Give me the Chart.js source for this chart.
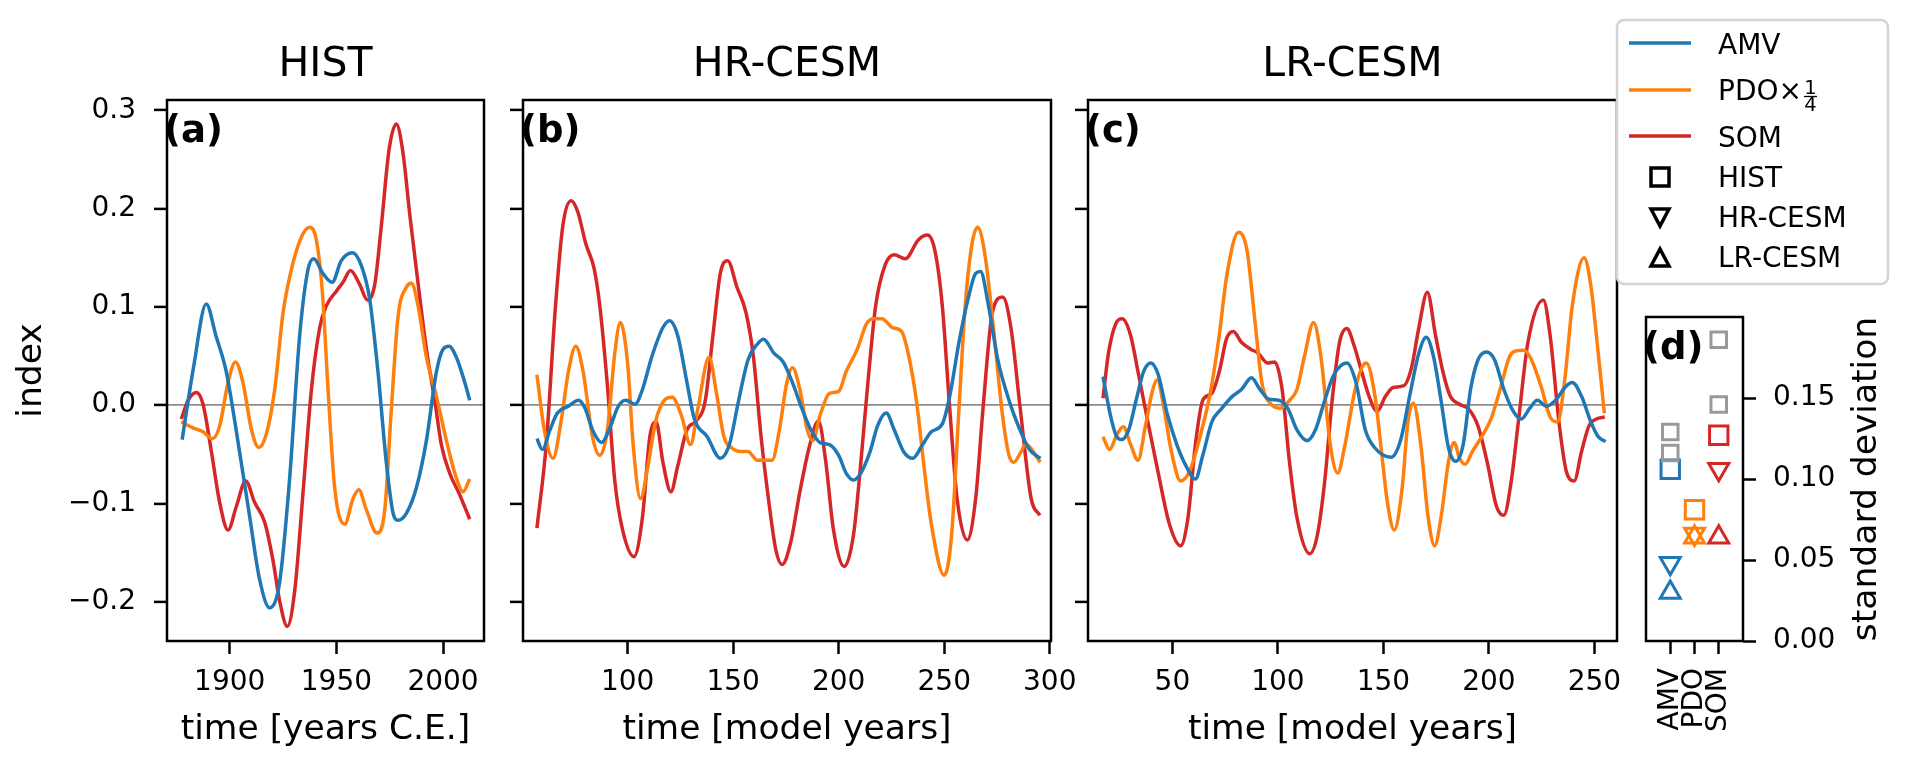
<!DOCTYPE html>
<html>
<head>
<meta charset="utf-8">
<script src="https://cdn.jsdelivr.net/npm/chart.js@4.4.1/dist/chart.umd.min.js"></script>
<style>
  html, body { margin: 0; padding: 0; background: #fff; }
  #wrap { position: relative; width: 1909px; height: 767px; overflow: hidden; }
  #wrap canvas, #wrap svg { position: absolute; left: 0; top: 0; }
</style>
</head>
<body>
<div id="wrap">
  <canvas id="histChart" width="1909" height="767"></canvas>
  <canvas id="hrChart" width="1909" height="767"></canvas>
  <canvas id="lrChart" width="1909" height="767"></canvas>
  <canvas id="stdChart" width="1909" height="767"></canvas>
  <svg id="legend" width="1909" height="767" font-family="DejaVu Sans, sans-serif">
    <rect x="1617" y="20" width="271" height="264" rx="7" fill="#fff" stroke="#d3d3d3" stroke-width="2.5"/>
    <line x1="1629" y1="43" x2="1691" y2="43" stroke="#1f77b4" stroke-width="3.5"/>
    <line x1="1629" y1="90" x2="1691" y2="90" stroke="#ff7f0e" stroke-width="3.5"/>
    <line x1="1629" y1="136" x2="1691" y2="136" stroke="#d62728" stroke-width="3.5"/>
    <rect x="1651" y="168" width="18" height="18" fill="none" stroke="#000" stroke-width="3.5"/>
    <polygon points="1651,209 1669,209 1660,226" fill="none" stroke="#000" stroke-width="3.5" stroke-linejoin="miter"/>
    <polygon points="1651,266 1669,266 1660,249" fill="none" stroke="#000" stroke-width="3.5" stroke-linejoin="miter"/>
    <text x="1718" y="53.5" font-size="28">AMV</text>
    <text x="1718" y="100" font-size="28">PDO×</text>
    <text x="1810.5" y="94" font-size="19.5" text-anchor="middle">1</text>
    <line x1="1804" y1="96.5" x2="1817" y2="96.5" stroke="#000" stroke-width="1.3"/>
    <text x="1810.5" y="111" font-size="19.5" text-anchor="middle">4</text>
    <text x="1718" y="146.5" font-size="28">SOM</text>
    <text x="1718" y="187" font-size="28">HIST</text>
    <text x="1718" y="227" font-size="28">HR-CESM</text>
    <text x="1718" y="267" font-size="28">LR-CESM</text>
  </svg>
</div>
<script>
// ---- data ----
var yTicks = [-0.2, -0.1, 0.0, 0.1, 0.2, 0.3];
var yTickLabels = ['\u22120.2', '\u22120.1', '0.0', '0.1', '0.2', '0.3'];

var histTicks = [1900, 1950, 2000];
var hrTicks = [100, 150, 200, 250, 300];
var lrTicks = [50, 100, 150, 200, 250];

// HIST
var histAmvX = [1877.7, 1883, 1889, 1893.5, 1898.4, 1903, 1909.4, 1914, 1918.7, 1923.4, 1928, 1932.8, 1936.7, 1939.4, 1943.7, 1948, 1952.3, 1957.5, 1961.7, 1965.6, 1969.5, 1973.4, 1976.6, 1978.9, 1982.8, 1987.5, 1992.2, 1996.9, 2000, 2002.8, 2006.2, 2010.2, 2012.5];
var histAmvY = [-0.035, 0.038, 0.103, 0.071, 0.034, -0.025, -0.114, -0.177, -0.206, -0.18, -0.077, 0.071, 0.138, 0.149, 0.134, 0.125, 0.147, 0.155, 0.142, 0.108, 0.034, -0.058, -0.11, -0.117, -0.11, -0.084, -0.036, 0.034, 0.057, 0.06, 0.049, 0.023, 0.005];
var histPdoX = [1877.3, 1882.8, 1887.5, 1891.9, 1895.3, 1899.2, 1902.7, 1906.2, 1910.2, 1913.6, 1917.2, 1921.1, 1925, 1928.9, 1933.6, 1937.5, 1940.6, 1943.4, 1946.1, 1949.2, 1953.9, 1957.8, 1960.5, 1964, 1969, 1972.7, 1975.8, 1978.9, 1982.8, 1985.2, 1988.3, 1992.2, 1996.9, 2001.6, 2005.5, 2009.4, 2012.5];
var histPdoY = [-0.017, -0.023, -0.027, -0.034, -0.021, 0.023, 0.044, 0.023, -0.025, -0.043, -0.029, 0.016, 0.094, 0.138, 0.171, 0.181, 0.168, 0.116, 0.016, -0.084, -0.121, -0.095, -0.086, -0.106, -0.13, -0.106, -0.003, 0.09, 0.12, 0.124, 0.101, 0.049, 0.009, -0.036, -0.069, -0.088, -0.075];
var histSomX = [1877.3, 1880.5, 1884.4, 1887.5, 1891.4, 1895.3, 1899.2, 1903.1, 1907.5, 1911.7, 1916.4, 1920.3, 1923.4, 1927, 1930.5, 1934.4, 1938.3, 1942.2, 1945.3, 1950, 1953.1, 1956.6, 1960.9, 1964.5, 1968, 1971.1, 1974.7, 1978.1, 1981.2, 1984.4, 1987.5, 1992.2, 1996.1, 1999.2, 2003.1, 2007.8, 2012.5];
var histSomY = [-0.014, 0.005, 0.013, 0.001, -0.047, -0.099, -0.127, -0.103, -0.077, -0.099, -0.119, -0.158, -0.199, -0.225, -0.188, -0.088, 0.016, 0.079, 0.101, 0.116, 0.125, 0.137, 0.123, 0.107, 0.123, 0.183, 0.26, 0.286, 0.257, 0.194, 0.138, 0.057, 0.005, -0.04, -0.069, -0.091, -0.116];

// HR-CESM
var hrAmvX = [57, 59.6, 63.2, 66.7, 71.9, 76.7, 79.8, 83.3, 87.7, 91.2, 95.6, 99.1, 103.5, 107, 111.4, 116.7, 119.8, 123.7, 128.1, 131.6, 137.7, 143.9, 148.2, 152.6, 157, 161.4, 164.4, 169.3, 173.7, 178.1, 182.5, 186.8, 191.2, 195.6, 200, 203.5, 207, 210.5, 214.9, 218.4, 222.5, 226.3, 230.7, 235.1, 239.5, 243.9, 249.1, 252.6, 257, 261.4, 264.9, 267.2, 271, 275.4, 280.7, 285.1, 290.4, 295.6];
var hrAmvY = [-0.034, -0.045, -0.025, -0.008, -0.001, 0.005, -0.003, -0.025, -0.038, -0.025, -0.001, 0.005, 0.001, 0.016, 0.049, 0.079, 0.086, 0.071, 0.023, -0.014, -0.032, -0.054, -0.04, 0.005, 0.046, 0.062, 0.067, 0.053, 0.044, 0.023, -0.003, -0.025, -0.038, -0.04, -0.051, -0.069, -0.076, -0.069, -0.047, -0.021, -0.008, -0.025, -0.047, -0.054, -0.041, -0.027, -0.019, 0.009, 0.064, 0.109, 0.134, 0.136, 0.101, 0.046, 0.005, -0.021, -0.045, -0.054];
var hrPdoX = [57, 60.5, 64.6, 68.4, 71.9, 75.4, 78.9, 83.3, 86.8, 90.4, 93.9, 96.5, 100, 102.6, 106.1, 109.6, 113.2, 116.7, 121.1, 125.4, 129.8, 133.3, 138.6, 142.1, 145.6, 149.1, 153.5, 157, 161.4, 168.4, 171.9, 175.4, 178.1, 181.6, 185.1, 187.7, 191.2, 195.6, 200, 203.5, 208.8, 213.2, 216.7, 220.5, 225.4, 229.8, 233.3, 236.8, 240.4, 243.9, 250, 253.5, 257, 260.5, 265.8, 269.3, 273.7, 277.2, 280.7, 283, 286, 288.6, 295.6];
var hrPdoY = [0.031, -0.025, -0.054, -0.017, 0.034, 0.06, 0.034, -0.032, -0.051, -0.025, 0.053, 0.084, 0.042, -0.04, -0.095, -0.062, -0.017, 0.003, 0.008, -0.01, -0.04, -0.003, 0.049, 0.012, -0.032, -0.043, -0.047, -0.047, -0.056, -0.056, -0.025, 0.023, 0.038, 0.016, -0.025, -0.036, -0.01, 0.012, 0.014, 0.034, 0.057, 0.083, 0.088, 0.088, 0.079, 0.075, 0.049, 0.005, -0.062, -0.121, -0.173, -0.132, -0.003, 0.116, 0.181, 0.153, 0.071, -0.003, -0.051, -0.058, -0.049, -0.04, -0.058];
var hrSomX = [57, 61.4, 65.8, 69.3, 73.2, 76.3, 80.2, 84.2, 86.8, 90.4, 93.9, 97.4, 103, 107, 110.5, 113.5, 116.7, 120.5, 123.7, 128.1, 132.5, 136.8, 140.4, 143.9, 147.4, 151.8, 156.1, 159.6, 163.2, 166.7, 170.2, 173.2, 177.2, 181.6, 186, 190.4, 193.9, 197.4, 202.6, 207, 210.5, 214, 217.5, 221.9, 226.3, 231.6, 237.7, 242.1, 245.6, 249.1, 252.6, 256.1, 260.9, 264.9, 268.4, 272.8, 277.7, 281.6, 286, 291.2, 295.3];
var hrSomY = [-0.125, -0.04, 0.101, 0.183, 0.208, 0.197, 0.164, 0.138, 0.101, 0.02, -0.077, -0.125, -0.154, -0.114, -0.032, -0.017, -0.058, -0.088, -0.062, -0.025, -0.016, 0.005, 0.071, 0.134, 0.147, 0.12, 0.094, 0.049, -0.032, -0.095, -0.147, -0.162, -0.14, -0.088, -0.043, -0.016, -0.058, -0.125, -0.164, -0.132, -0.058, 0.027, 0.101, 0.142, 0.153, 0.149, 0.168, 0.173, 0.157, 0.101, -0.003, -0.095, -0.137, -0.095, -0.003, 0.094, 0.11, 0.079, -0.003, -0.095, -0.112];

// LR-CESM
var lrAmvX = [17.1, 20.6, 23.2, 25.8, 29.3, 32.8, 36.3, 39.8, 43.3, 47.7, 52.1, 56.5, 60.9, 64.4, 68.7, 73.1, 78.4, 82.7, 87.5, 91.5, 95.9, 100.3, 104.6, 109, 113.9, 117.8, 122.2, 126.5, 132.7, 137, 141.4, 145.8, 153.7, 158.1, 162.4, 166.8, 170.3, 173.8, 177.3, 180.8, 184.3, 187.8, 191.3, 194.8, 198.9, 202.7, 207.1, 211.5, 215.3, 219.4, 222.9, 227.3, 231.6, 236, 239.5, 243.9, 248.3, 251.8, 255.3];
var lrAmvY = [0.029, -0.01, -0.03, -0.035, -0.025, 0.005, 0.034, 0.043, 0.031, -0.01, -0.04, -0.062, -0.075, -0.051, -0.017, -0.004, 0.009, 0.016, 0.028, 0.016, 0.006, 0.005, -0.003, -0.025, -0.036, -0.025, 0.005, 0.031, 0.043, 0.023, -0.025, -0.043, -0.053, -0.036, 0.009, 0.053, 0.069, 0.049, 0.005, -0.043, -0.057, -0.04, 0.016, 0.046, 0.054, 0.046, 0.016, -0.006, -0.014, -0.003, 0.005, -0.001, 0.005, 0.018, 0.023, 0.009, -0.017, -0.032, -0.037];
var lrPdoX = [17.1, 20.2, 23.7, 26.7, 30.2, 33.7, 37.2, 40.7, 42.8, 46, 49.5, 53.9, 58.2, 62.6, 67.9, 72.2, 75.7, 81.3, 85.4, 88.9, 92.4, 96.8, 101.1, 105.5, 109, 112.5, 116.9, 120.4, 124.8, 128.3, 131.8, 136.2, 139.7, 141.9, 145.8, 149.3, 151.9, 155.1, 158.9, 161.6, 164.2, 167.7, 171.2, 174.3, 177.3, 180.8, 183.5, 186.1, 188.7, 192.2, 196.6, 201, 205.3, 209.7, 212.3, 216.7, 220.2, 224.6, 229, 232.5, 236, 239.5, 245.1, 248.2, 251.8, 254.7];
var lrPdoY = [-0.032, -0.045, -0.03, -0.022, -0.04, -0.056, -0.021, 0.016, 0.026, -0.003, -0.047, -0.077, -0.067, -0.036, 0.012, 0.071, 0.131, 0.176, 0.157, 0.09, 0.023, 0.001, -0.003, 0.005, 0.016, 0.049, 0.084, 0.049, -0.04, -0.069, -0.04, 0.012, 0.038, 0.043, 0.012, -0.051, -0.099, -0.127, -0.084, -0.017, 0.002, -0.04, -0.114, -0.143, -0.114, -0.058, -0.038, -0.054, -0.06, -0.047, -0.032, -0.014, 0.016, 0.049, 0.055, 0.056, 0.046, 0.02, -0.012, -0.017, 0.027, 0.101, 0.15, 0.123, 0.053, -0.008];
var lrSomX = [17.1, 19.7, 23.2, 26.2, 30.2, 33.7, 38.1, 43.3, 48.6, 53.9, 57.4, 60.9, 64.4, 68.7, 72.2, 75.7, 78.9, 82.7, 87.1, 90.6, 95, 98.5, 102, 105.5, 109, 115.1, 118.7, 122.2, 125.7, 129.2, 132.7, 136.2, 139.7, 143.2, 147, 151, 154.6, 159.8, 163.3, 166.8, 170.8, 174.7, 178.2, 181.7, 186.1, 190.4, 194.8, 199.2, 203.6, 207.1, 210.6, 214.1, 218.5, 225.8, 229, 233.4, 236.9, 240.4, 243.9, 247.4, 250.9, 254.9];
var lrSomY = [0.007, 0.053, 0.083, 0.088, 0.071, 0.034, -0.014, -0.069, -0.121, -0.143, -0.114, -0.04, 0.005, 0.012, 0.034, 0.068, 0.075, 0.064, 0.057, 0.053, 0.043, 0.044, 0.016, -0.058, -0.114, -0.151, -0.132, -0.077, 0.005, 0.064, 0.078, 0.06, 0.034, 0.009, -0.006, 0.009, 0.018, 0.02, 0.038, 0.079, 0.115, 0.071, 0.034, 0.009, 0.001, -0.004, -0.021, -0.058, -0.103, -0.112, -0.077, -0.014, 0.064, 0.107, 0.071, -0.021, -0.069, -0.077, -0.047, -0.021, -0.014, -0.012];

// (d) standard deviations
var stdCategories = ['AMV', 'PDO', 'SOM'];
var stdCatX = [0, 1, 2];
var stdHist = [0.106, 0.081, 0.127];
var stdHr = [0.048, 0.066, 0.106];
var stdLr = [0.030, 0.064, 0.064];
var stdGrayX = [0, 0, 2, 2];
var stdGrayY = [0.129, 0.116, 0.186, 0.146];
var stdTicks = [0, 0.05, 0.10, 0.15];
var stdTickLabels = ['0.00', '0.05', '0.10', '0.15'];

// ---- drawing ----
var W = 1909, H = 767, TOP = 100, BOTTOM = 641;
var FONT = "'DejaVu Sans', sans-serif";
var C_AMV = '#1f77b4', C_PDO = '#ff7f0e', C_SOM = '#d62728';
Chart.defaults.font.family = FONT;
Chart.defaults.color = '#000';

function pts(xs, ys) {
  return xs.map(function (x, i) { return {x: x, y: ys[i]}; });
}
function fixedTicks(values) {
  return function (scale) {
    scale.ticks = values.map(function (v) { return {value: v}; });
  };
}

var decor = {
  id: 'decor',
  afterDraw: function (chart, args, opts) {
    var a = chart.chartArea, c = chart.ctx;
    c.save();
    c.strokeStyle = '#000';
    c.lineWidth = 2.5;
    c.strokeRect(a.left, a.top, a.right - a.left, a.bottom - a.top);
    c.fillStyle = '#000';
    if (opts.title) {
      c.font = '41px ' + FONT;
      c.textAlign = 'center';
      c.textBaseline = 'alphabetic';
      c.fillText(opts.title, (a.left + a.right) / 2, 76);
    }
    if (opts.label) {
      c.font = 'bold 37px ' + FONT;
      c.textAlign = 'left';
      c.textBaseline = 'middle';
      c.fillText(opts.label, a.left - 3, a.top + 32);
    }
    if (opts.rightTitle) {
      c.font = '34.5px ' + FONT;
      c.translate(opts.rightTitleX, (a.top + a.bottom) / 2);
      c.rotate(-Math.PI / 2);
      c.textAlign = 'center';
      c.textBaseline = 'middle';
      c.fillText(opts.rightTitle, 0, 0);
    }
    c.restore();
  }
};

function makePanel(id, p) {
  new Chart(document.getElementById(id), {
    type: 'line',
    data: {
      datasets: p.series.map(function (s) {
        return {
          label: s.name,
          data: pts(s.x, s.y),
          borderColor: s.color,
          borderWidth: 3.5,
          pointRadius: 0,
          cubicInterpolationMode: 'monotone',
          fill: false
        };
      })
    },
    options: {
      responsive: false,
      animation: false,
      devicePixelRatio: 1,
      layout: {padding: {left: p.padLeft, right: W - p.right, top: TOP, bottom: 0}},
      plugins: {
        legend: {display: false},
        tooltip: {enabled: false},
        decor: {title: p.title, label: p.label}
      },
      scales: {
        x: {
          type: 'linear',
          min: p.xmin,
          max: p.xmax,
          afterBuildTicks: fixedTicks(p.xticks),
          afterFit: function (s) { s.height = H - BOTTOM; s.paddingLeft = 0; s.paddingRight = 0; },
          border: {display: false},
          grid: {drawOnChartArea: false, drawTicks: true, tickLength: 13, tickWidth: 2.5, tickColor: '#000'},
          ticks: {
            autoSkip: false, maxRotation: 0, minRotation: 0, padding: 12,
            font: {size: 28},
            callback: function (v) { return String(v); }
          },
          title: {display: true, text: p.xlabel, font: {size: 34.5}, padding: {top: 0, bottom: 16}}
        },
        y: {
          min: -0.2398,
          max: 0.3104,
          afterBuildTicks: fixedTicks(yTicks),
          afterFit: function (s) { s.width = p.left - p.padLeft; },
          border: {display: false},
          grid: {
            drawOnChartArea: true,
            color: function (c) { return c.tick && c.tick.value === 0 ? '#8c8c8c' : 'rgba(0,0,0,0)'; },
            lineWidth: 1.8,
            drawTicks: true, tickLength: 13, tickWidth: 2.5, tickColor: '#000'
          },
          ticks: {
            display: p.yLabels, padding: 18, font: {size: 28},
            callback: function (v, i) { return yTickLabels[i]; }
          },
          title: {display: !!p.ylabel, text: p.ylabel || '', font: {size: 34.5}, padding: {top: 11, bottom: 0}}
        }
      }
    },
    plugins: [decor]
  });
}

makePanel('histChart', {
  left: 167, padLeft: 0, right: 484, xmin: 1870.6, xmax: 2019.2, xticks: histTicks,
  title: 'HIST', label: '(a)', xlabel: 'time [years C.E.]', ylabel: 'index', yLabels: true,
  series: [
    {name: 'AMV', x: histAmvX, y: histAmvY, color: C_AMV},
    {name: 'PDO', x: histPdoX, y: histPdoY, color: C_PDO},
    {name: 'SOM', x: histSomX, y: histSomY, color: C_SOM}
  ]
});
makePanel('hrChart', {
  left: 523, padLeft: 500, right: 1051, xmin: 50.4, xmax: 300.6, xticks: hrTicks,
  title: 'HR-CESM', label: '(b)', xlabel: 'time [model years]', yLabels: false,
  series: [
    {name: 'AMV', x: hrAmvX, y: hrAmvY, color: C_AMV},
    {name: 'PDO', x: hrPdoX, y: hrPdoY, color: C_PDO},
    {name: 'SOM', x: hrSomX, y: hrSomY, color: C_SOM}
  ]
});
makePanel('lrChart', {
  left: 1088, padLeft: 1065, right: 1617, xmin: 10, xmax: 260.7, xticks: lrTicks,
  title: 'LR-CESM', label: '(c)', xlabel: 'time [model years]', yLabels: false,
  series: [
    {name: 'AMV', x: lrAmvX, y: lrAmvY, color: C_AMV},
    {name: 'PDO', x: lrPdoX, y: lrPdoY, color: C_PDO},
    {name: 'SOM', x: lrSomX, y: lrSomY, color: C_SOM}
  ]
});

var catColors = [C_AMV, C_PDO, C_SOM];
function markerSet(ys, style, rot, r) {
  return {
    data: pts(stdCatX, ys),
    pointStyle: style,
    pointRotation: rot,
    pointRadius: r,
    pointBorderWidth: 3,
    pointBorderColor: catColors,
    pointBackgroundColor: 'rgba(0,0,0,0)'
  };
}

new Chart(document.getElementById('stdChart'), {
  type: 'scatter',
  data: {
    datasets: [
      {
        data: pts(stdGrayX, stdGrayY),
        pointStyle: 'rect', pointRadius: 11, pointBorderWidth: 3,
        pointBorderColor: '#999999', pointBackgroundColor: 'rgba(0,0,0,0)'
      },
      markerSet(stdHist, 'rect', 0, 13),
      markerSet(stdHr, 'triangle', 180, 11.5),
      markerSet(stdLr, 'triangle', 0, 11.5)
    ]
  },
  options: {
    responsive: false,
    animation: false,
    devicePixelRatio: 1,
    layout: {padding: {left: 1646, right: 0, top: 317, bottom: 0}},
    plugins: {
      legend: {display: false},
      tooltip: {enabled: false},
      decor: {label: '(d)', rightTitle: 'standard deviation', rightTitleX: 1867}
    },
    scales: {
      x: {
        type: 'linear', min: -1, max: 3,
        afterBuildTicks: fixedTicks(stdCatX),
        afterFit: function (s) { s.height = H - BOTTOM; s.paddingLeft = 0; s.paddingRight = 0; },
        border: {display: false},
        grid: {drawOnChartArea: false, drawTicks: true, tickLength: 13, tickWidth: 2.5, tickColor: '#000'},
        ticks: {
          autoSkip: false, minRotation: 90, maxRotation: 90, padding: 14,
          font: {size: 28},
          callback: function (v, i) { return stdCategories[i]; }
        }
      },
      y: {
        position: 'right', min: 0, max: 0.2,
        afterBuildTicks: fixedTicks(stdTicks),
        afterFit: function (s) { s.width = W - 1743; },
        border: {display: false},
        grid: {drawOnChartArea: false, drawTicks: true, tickLength: 13, tickWidth: 2.5, tickColor: '#000'},
        ticks: {
          padding: 17, font: {size: 28},
          callback: function (v, i) { return stdTickLabels[i]; }
        }
      }
    }
  },
  plugins: [decor]
});
</script>
</body>
</html>
